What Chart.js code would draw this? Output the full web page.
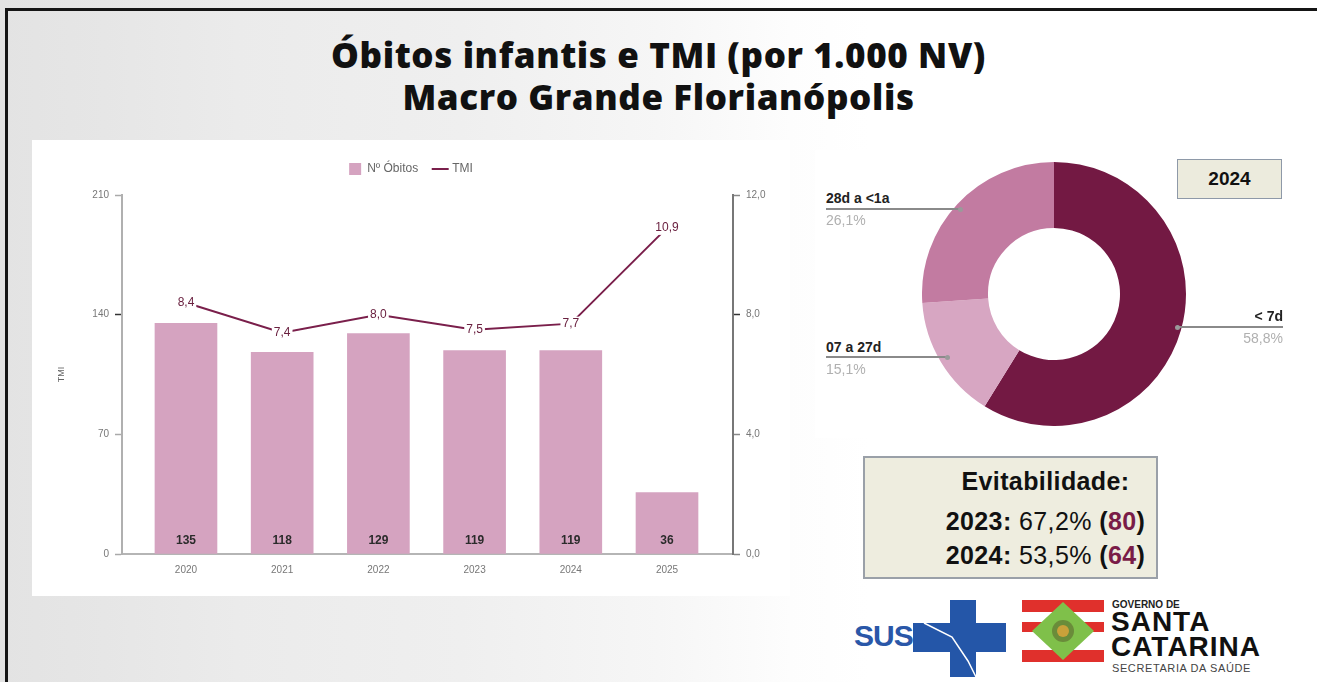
<!DOCTYPE html>
<html><head><meta charset="utf-8">
<script src="https://cdn.jsdelivr.net/npm/chart.js@4/dist/chart.umd.min.js"></script>
<style>
html,body{margin:0;padding:0;}
body{width:1317px;height:682px;overflow:hidden;position:relative;
 background:linear-gradient(90deg,#e3e3e3 0%,#e6e6e6 8%,#ebebeb 18%,#efefef 35%,#f6f6f6 50%,#fdfdfd 60%,#ffffff 66%);
 font-family:"Liberation Sans",Arial,sans-serif;}
.abs{position:absolute;}
#frameTop{left:5px;top:8px;width:1312px;height:3px;background:#151515;}
#frameLeft{left:5px;top:8px;width:3px;height:674px;background:#151515;}
#title{left:0;top:34px;width:1317px;text-align:center;font-family:"Open Sans",sans-serif;font-weight:800;font-size:35px;letter-spacing:0.6px;line-height:42px;color:#111;}
#panel{left:32px;top:140px;width:758px;height:456px;background:#fff;}
#c1{left:32px;top:140px;}
#panel2{left:815px;top:150px;width:487px;height:288px;background:#fff;}
#c2{left:922px;top:162px;}
.dl{font-weight:bold;font-size:14px;color:#222;line-height:16px;}
.dp{font-size:14px;color:#b0b0b0;line-height:16px;}
.rule{height:2px;background:#8a8a8a;}
.dot{width:5px;height:5px;border-radius:50%;background:#9a9a9a;}
#box2024{left:1177px;top:159px;width:103px;height:38px;background:#ecebdd;border:1.5px solid #8e99a8;text-align:center;font-weight:bold;font-size:19px;line-height:38px;color:#111;}
#evit{left:863px;top:456px;width:291px;height:119px;background:#eeeddf;border:2px solid #9aa0a8;color:#111;font-size:25px;letter-spacing:0.4px;}
#evit div{position:absolute;left:70px;right:0;text-align:center;line-height:28px;}
.m{color:#7a1c48;font-weight:bold;}
</style></head>
<body>
<div id="frameTop" class="abs"></div>
<div id="frameLeft" class="abs"></div>
<div id="title" class="abs">Óbitos infantis e TMI (por 1.000 NV)<br>Macro Grande Florianópolis</div>
<div id="panel" class="abs"></div>
<canvas id="c1" class="abs" width="758" height="456" style="width:758px;height:456px"></canvas>
<div id="panel2" class="abs"></div>
<canvas id="c2" class="abs" width="264" height="264" style="width:264px;height:264px"></canvas>

<div class="abs dl" style="left:826px;top:190px;">28d a &lt;1a</div>
<div class="abs rule" style="left:826px;top:208px;width:134px;"></div>
<div class="abs dot" style="left:958px;top:207px;"></div>
<div class="abs dp" style="left:826px;top:212px;">26,1%</div>

<div class="abs dl" style="left:826px;top:339px;">07 a 27d</div>
<div class="abs rule" style="left:826px;top:356px;width:121px;"></div>
<div class="abs dot" style="left:945px;top:355px;"></div>
<div class="abs dp" style="left:826px;top:361px;">15,1%</div>

<div class="abs dl" style="left:1183px;width:100px;text-align:right;top:308px;">&lt; 7d</div>
<div class="abs rule" style="left:1177px;top:326px;width:106px;"></div>
<div class="abs dot" style="left:1175px;top:325px;"></div>
<div class="abs dp" style="left:1183px;width:100px;text-align:right;top:330px;">58,8%</div>

<div id="box2024" class="abs">2024</div>

<div id="evit" class="abs">
 <div style="top:9px;font-weight:bold;">Evitabilidade:</div>
 <div style="top:49px;"><b>2023:</b> 67,2% <b>(</b><span class="m">80</span><b>)</b></div>
 <div style="top:83px;"><b>2024:</b> 53,5% <b>(</b><span class="m">64</span><b>)</b></div>
</div>

<div class="abs" style="left:854px;top:619px;font-weight:bold;font-size:30px;color:#2a57a8;letter-spacing:-1px;">SUS</div>
<svg class="abs" style="left:912px;top:599px;" width="96" height="80">
 <rect x="38" y="1" width="26" height="77" fill="#2456a8"/>
 <rect x="1" y="24" width="93" height="29" fill="#2456a8"/>
 <polyline points="12,24 40,38 56,62 64,78" fill="none" stroke="#fff" stroke-width="1.5"/>
</svg>
<svg class="abs" style="left:1022px;top:600px;" width="82" height="62">
 <rect x="0" y="0" width="82" height="62" fill="#fff"/>
 <rect x="0" y="0" width="82" height="12" fill="#e0302c"/>
 <rect x="0" y="22" width="82" height="10" fill="#e0302c"/>
 <rect x="0" y="50" width="82" height="12" fill="#e0302c"/>
 <polygon points="41,2 72,31 41,60 10,31" fill="#7fc04a"/>
 <circle cx="41" cy="31" r="11" fill="#6a8c3a"/>
 <circle cx="41" cy="31" r="6" fill="#c9a13a"/>
</svg>
<div class="abs" style="left:1112px;top:599px;font-weight:bold;font-size:10px;color:#222;">GOVERNO DE</div>
<div class="abs" style="left:1111px;top:609px;font-weight:bold;font-size:28px;line-height:25px;letter-spacing:1px;color:#111;">SANTA<br>CATARINA</div>
<div class="abs" style="left:1112px;top:662px;font-size:11px;color:#444;letter-spacing:0.6px;">SECRETARIA DA SAÚDE</div>

<script>
const years = ['2020','2021','2022','2023','2024','2025'];
const obitos = [135,118,129,119,119,36];
const tmi = [8.4,7.4,8.0,7.5,7.7,10.9];
const leftTicks = [0,70,140,210];
const rightTicks = [0,4,8,12];
const faixas = ['< 7d','07 a 27d','28d a <1a'];
const faixaPct = [58.8,15.1,26.1];

const barColor = '#d5a3c0';
const lineColor = '#7a1f4b';
const fmt = v => v.toFixed(1).replace('.', ',');

const legendPad = {
  id:'legendPad',
  beforeInit(chart){
    const fit = chart.legend.fit;
    chart.legend.fit = function(){ fit.call(this); this.height = 48; };
  }
};

const valueLabels = {
  id:'valueLabels',
  afterDatasetsDraw(chart){
    const ctx = chart.ctx;
    ctx.save();
    ctx.textAlign='center'; ctx.textBaseline='middle';
    ctx.font='bold 12px "Liberation Sans", Arial, sans-serif';
    ctx.fillStyle='#2b2b2b';
    chart.getDatasetMeta(0).data.forEach((el,i)=>{ ctx.fillText(String(obitos[i]), el.x, el.base - 13); });
    ctx.font='12px "Liberation Sans", Arial, sans-serif';
    chart.getDatasetMeta(1).data.forEach((el,i)=>{
      const t = fmt(tmi[i]);
      const w = ctx.measureText(t).width;
      ctx.fillStyle='#ffffff';
      ctx.fillRect(el.x - w/2 - 2, el.y - 7, w + 4, 14);
      ctx.fillStyle='#6a2140';
      ctx.fillText(t, el.x, el.y);
    });
    ctx.restore();
  }
};

new Chart(document.getElementById('c1'), {
  data:{
    datasets:[
      {type:'bar', label:'Nº Óbitos', data:obitos.map((v,i)=>({x:i,y:v})), backgroundColor:barColor, yAxisID:'y', barThickness:62, order:2, pointStyle:'rect'},
      {type:'line', label:'TMI', data:tmi.map((v,i)=>({x:i,y:v})), borderColor:lineColor, backgroundColor:lineColor, borderWidth:2, pointRadius:0, yAxisID:'y1', order:1, pointStyle:'line', tension:0}
    ]
  },
  options:{
    responsive:false, animation:false,
    layout:{padding:{top:7,left:0,right:0,bottom:0}},
    plugins:{
      legend:{display:true, position:'top',
        labels:{usePointStyle:true, boxWidth:13, boxHeight:12, padding:16, color:'#666', font:{size:12, family:'"Liberation Sans", Arial'},
          sort:(a,b)=>a.datasetIndex-b.datasetIndex}},
      tooltip:{enabled:false}
    },
    scales:{
      x:{type:'linear', min:-0.665, max:5.686, offset:false, position:'bottom',
        afterBuildTicks:s=>{ s.ticks = years.map((_,i)=>({value:i})); },
        afterFit:s=>{ s.height = 42; },
        ticks:{callback:v=>years[v], color:'#777', font:{size:10}, padding:10},
        grid:{display:false, drawTicks:false, offset:false},
        border:{display:true, color:'#b5b5b5', width:2}},
      y:{position:'left', min:0, max:210,
        afterBuildTicks:s=>{ s.ticks = leftTicks.map(v=>({value:v})); },
        afterFit:s=>{ s.width = 90; },
        ticks:{color:'#777', font:{size:10}, padding:6},
        grid:{drawOnChartArea:false, drawTicks:true, tickLength:7, tickWidth:1.5,
          tickColor:c=> (c.tick && c.tick.value===140) ? '#333' : '#aaa'},
        border:{display:true, color:'#b0b0b0', width:2},
        title:{display:true, text:'TMI', color:'#666', font:{size:9}, padding:{top:24,bottom:0}}},
      y1:{position:'right', min:0, max:12,
        afterBuildTicks:s=>{ s.ticks = rightTicks.map(v=>({value:v})); },
        afterFit:s=>{ s.width = 57; },
        ticks:{color:'#777', font:{size:10}, padding:6, callback:v=>fmt(v)},
        grid:{drawOnChartArea:false, drawTicks:true, tickLength:7, tickWidth:1.5,
          tickColor:c=> (c.tick && c.tick.value===8) ? '#333' : '#888'},
        border:{display:true, color:'#777', width:2}}
    }
  },
  plugins:[legendPad, valueLabels]
});

new Chart(document.getElementById('c2'), {
  type:'doughnut',
  data:{labels:faixas, datasets:[{data:faixaPct, backgroundColor:['#731943','#d7a6c2','#c27ba1'], borderWidth:0}]},
  options:{responsive:false, animation:false, cutout:'50%', layout:{padding:0},
    plugins:{legend:{display:false}, tooltip:{enabled:false}}}
});
</script>
</body></html>
